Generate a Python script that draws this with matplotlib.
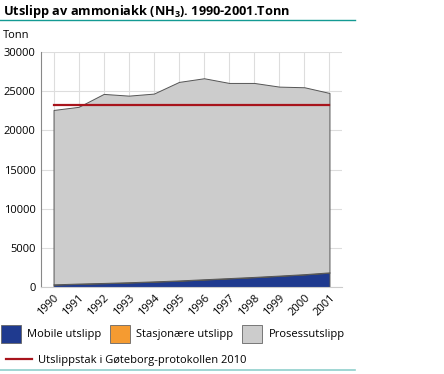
import numpy as np
import matplotlib
matplotlib.use("Agg")
import matplotlib.pyplot as plt
from matplotlib.patches import Patch
from matplotlib.lines import Line2D

plt.rcParams['font.family'] = ['Open Sans', 'DejaVu Sans']
plt.rcParams['mathtext.fontset'] = 'custom'
plt.rcParams['mathtext.bf'] = 'Open Sans:bold'
plt.rcParams['mathtext.rm'] = 'Open Sans:bold'
plt.rcParams['mathtext.default'] = 'bf'

# Data (tonn)
years = list(range(1990, 2002))
mobile = [300, 400, 480, 570, 680, 800, 950, 1100, 1250, 1420, 1600, 1830]
stationary = [40, 40, 40, 40, 40, 40, 40, 40, 40, 40, 40, 40]
process = [22260, 22560, 24130, 23820, 23970, 25340, 25660, 24910, 24760, 24120, 23860, 22900]
ceiling = 23200

series_labels = ["Mobile utslipp", "Stasjonære utslipp", "Prosessutslipp"]
series_colors = ["#1f3a8f", "#f59b31", "#cccccc"]
ceiling_label = "Utslippstak i Gøteborg-protokollen 2010"
ceiling_color = "#a8141c"

fig = plt.figure(figsize=(4.44, 3.74), dpi=100)
ax = fig.add_axes([41 / 444, 87 / 374, 301 / 444, 235 / 374])

ax.stackplot(years, mobile, stationary, process, colors=series_colors,
             edgecolor="#555555", linewidth=0.7, zorder=2)
ax.plot([years[0], years[-1]], [ceiling, ceiling], color=ceiling_color,
        linewidth=1.6, zorder=3)

ax.set_xlim(1989.5, 2001.5)
ax.set_ylim(0, 30000)
ax.set_xticks(years)
ax.set_xticklabels([str(y) for y in years], rotation=45, ha="right",
                   rotation_mode="anchor", fontsize=8)
ax.set_yticks(range(0, 30001, 5000))
ax.set_yticklabels([str(v) for v in range(0, 30001, 5000)], fontsize=8)
ax.tick_params(axis="both", length=0, pad=4)
ax.grid(True, color="#dddddd", linewidth=0.8, zorder=0)
ax.set_axisbelow(True)
for side in ["top", "right"]:
    ax.spines[side].set_visible(False)
ax.spines["left"].set_color("#888888")
ax.spines["bottom"].set_color("#cccccc")

# Title and rules
fig.text(3 / 444, 1 - 12 / 374, r"Utslipp av ammoniakk (NH$_3$). 1990-2001.Tonn",
         fontsize=9.2, fontweight="bold", va="center", ha="left")
fig.add_artist(Line2D([0, 355 / 444], [1 - 20 / 374] * 2, color="#139a93", linewidth=1))
fig.add_artist(Line2D([0, 355 / 444], [1 - 370 / 374] * 2, color="#8fd0cc", linewidth=1.2))
fig.text(3 / 444, 1 - 36 / 374, "Tonn", fontsize=8, va="center", ha="left")

# Legend
handles = [Patch(facecolor=c, edgecolor="#666666", linewidth=0.6) for c in series_colors]
fig.legend(handles, series_labels, ncol=3, loc="center left",
           bbox_to_anchor=(1 / 444, 1 - 334 / 374), frameon=False, fontsize=8,
           handlelength=1.8, handleheight=2.1, handletextpad=0.55,
           columnspacing=0.8, borderpad=0, borderaxespad=0)
fig.legend([Line2D([0], [0], color=ceiling_color, linewidth=1.6)], [ceiling_label],
           loc="center left", bbox_to_anchor=(6 / 444, 1 - 360 / 374), frameon=False,
           fontsize=8, handlelength=2.35, handletextpad=0.55, borderpad=0,
           borderaxespad=0)

fig.savefig("out.png", dpi=100)
